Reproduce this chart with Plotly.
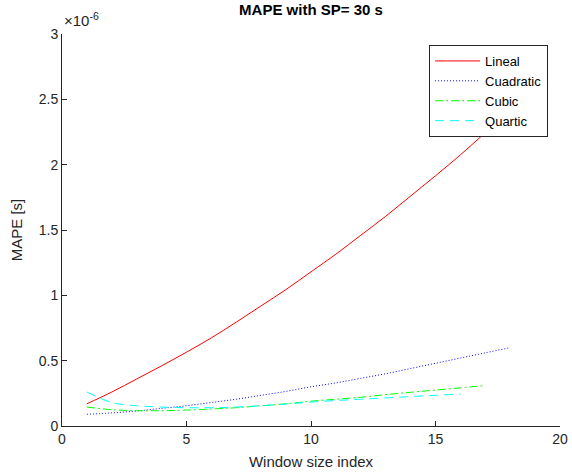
import plotly.graph_objects as go

# Values (MAPE in units of 1e-6 s)
x_lineal = list(range(1, 20))
lineal = [0.17, 0.26, 0.36, 0.46, 0.565, 0.675, 0.795, 0.92, 1.045, 1.18,
          1.315, 1.46, 1.605, 1.76, 1.915, 2.075, 2.245, 2.415, 2.59]
x_quad = list(range(1, 19))
cuadratic = [0.09, 0.10, 0.115, 0.135, 0.155, 0.18, 0.205, 0.235, 0.265, 0.30,
             0.33, 0.365, 0.40, 0.44, 0.48, 0.52, 0.56, 0.60]
x_cubic = list(range(1, 18))
cubic = [0.145, 0.125, 0.117, 0.117, 0.122, 0.13, 0.14, 0.155, 0.17, 0.19,
         0.205, 0.22, 0.24, 0.258, 0.275, 0.292, 0.31]
x_quartic = list(range(1, 17))
quartic = [0.26, 0.18, 0.155, 0.145, 0.14, 0.14, 0.145, 0.155, 0.168, 0.183,
           0.195, 0.205, 0.215, 0.225, 0.235, 0.245]

x_ticks = [0, 5, 10, 15, 20]
y_ticks = [0, 0.5, 1, 1.5, 2, 2.5, 3]
y_tick_labels = ["0", "0.5", "1", "1.5", "2", "2.5", "3"]

FONT = "Liberation Sans, Arial, sans-serif"
AX = "#262626"

fig = go.Figure()
fig.add_trace(go.Scatter(x=x_lineal, y=lineal, mode="lines", name="Lineal",
                         line=dict(color="#ff0000", width=1, dash="solid", shape="spline")))
fig.add_trace(go.Scatter(x=x_quad, y=cuadratic, mode="lines", name="Cuadratic",
                         line=dict(color="#0000ff", width=1, dash="1px,2px", shape="spline")))
fig.add_trace(go.Scatter(x=x_cubic, y=cubic, mode="lines", name="Cubic",
                         line=dict(color="#00ff00", width=1, dash="8px,3px,2px,3px", shape="spline")))
fig.add_trace(go.Scatter(x=x_quartic, y=quartic, mode="lines", name="Quartic",
                         line=dict(color="#00ffff", width=1, dash="9px,6px", shape="spline")))

fig.update_layout(
    width=572, height=472,
    margin=dict(l=62, r=12, t=34, b=46, autoexpand=False),
    paper_bgcolor="white", plot_bgcolor="white",
    font=dict(family=FONT, size=13, color=AX),
    title=dict(text="<b>MAPE with SP= 30 s</b>", x=311 / 572,
               xanchor="center", y=1 - 10 / 472, yanchor="middle",
               automargin=False,
               font=dict(family=FONT, size=15, color="black")),
    showlegend=True,
    legend=dict(x=0.976, y=0.972, xanchor="right", yanchor="top",
                bgcolor="white", bordercolor=AX, borderwidth=1,
                font=dict(family=FONT, size=13, color="black"),
                itemwidth=45, tracegroupgap=0),
    xaxis=dict(range=[0, 20], tickvals=x_ticks, showgrid=False, zeroline=False,
               automargin=False,
               showline=True, linecolor=AX, linewidth=1,
               ticks="inside", ticklen=5, tickcolor=AX,
               tickfont=dict(family=FONT, size=14, color=AX),
               title=dict(text="Window size index", standoff=10,
                          font=dict(family=FONT, size=15, color=AX))),
    yaxis=dict(range=[0, 3], tickvals=y_ticks, ticktext=y_tick_labels,
               showgrid=False, zeroline=False, automargin=False,
               showline=True, linecolor=AX, linewidth=1,
               ticks="inside", ticklen=5, tickcolor=AX,
               tickfont=dict(family=FONT, size=14, color=AX),
               title=dict(text="MAPE [s]", standoff=12,
                          font=dict(family=FONT, size=15, color=AX))),
)

fig.add_annotation(text="×10<sup>-6</sup>", xref="paper", yref="paper",
                   x=0.0, y=1 + 15 / 392, xanchor="left", yanchor="middle",
                   showarrow=False, font=dict(family=FONT, size=15, color=AX))

fig.write_html("out.html", config={"displayModeBar": False},
               post_script="document.body.style.margin='0';document.body.style.overflow='hidden';")
